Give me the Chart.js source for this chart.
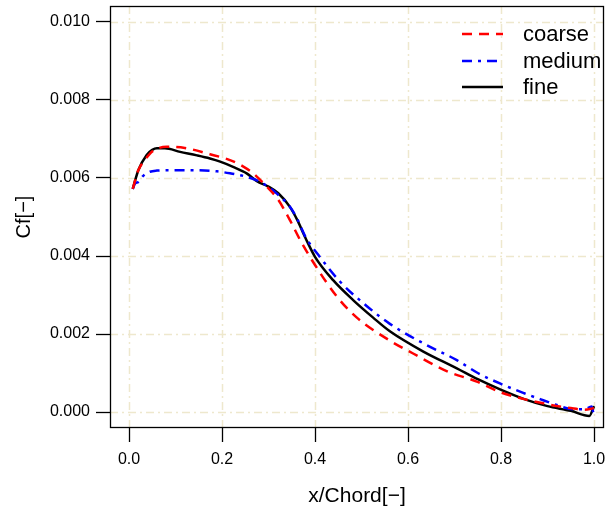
<!DOCTYPE html>
<html>
<head>
<meta charset="utf-8">
<script src="https://cdn.jsdelivr.net/npm/chart.js@4"></script>
<style>
html,body{margin:0;padding:0;background:#fff;}
canvas{display:block;}
</style>
</head>
<body>
<canvas id="c" width="606" height="511"></canvas>
<script>
// ---- data ----
const seriesLabels = ["coarse", "medium", "fine"];

const coarseX = [0.008, 0.02, 0.034, 0.05, 0.081, 0.12, 0.174, 0.217, 0.245, 0.267, 0.296, 0.321, 0.346, 0.368, 0.40, 0.447, 0.49, 0.561, 0.611, 0.683, 0.748, 0.80, 0.85, 0.90, 0.95, 0.98, 1.0];
const coarseY = [0.00572, 0.0062, 0.00646, 0.00668, 0.0068, 0.00677, 0.00661, 0.00646, 0.0063, 0.00612, 0.00578, 0.00544, 0.00492, 0.00441, 0.00377, 0.00296, 0.00242, 0.00183, 0.0015, 0.00105, 0.00078, 0.0005, 0.00033, 0.0002, 0.0001, 0.00006, 0.0001];

const mediumX = [0.008, 0.013, 0.02, 0.03, 0.045, 0.06, 0.088, 0.13, 0.189, 0.217, 0.253, 0.282, 0.318, 0.346, 0.361, 0.38, 0.407, 0.454, 0.511, 0.561, 0.633, 0.705, 0.75, 0.80, 0.85, 0.884, 0.92, 0.955, 0.98, 0.995, 1.0];
const mediumY = [0.00572, 0.00586, 0.0059, 0.00605, 0.00616, 0.00619, 0.0062, 0.0062, 0.00617, 0.00612, 0.00603, 0.0059, 0.0056, 0.00526, 0.00497, 0.00448, 0.00403, 0.00334, 0.00272, 0.00226, 0.00176, 0.00133, 0.001, 0.00072, 0.00048, 0.00033, 0.00018, 0.00007, 0.00007, 0.00014, -0.00012];

const fineX = [0.008, 0.02, 0.038, 0.05, 0.06, 0.077, 0.11, 0.146, 0.174, 0.196, 0.225, 0.253, 0.275, 0.30, 0.321, 0.346, 0.362, 0.38, 0.40, 0.439, 0.482, 0.525, 0.561, 0.633, 0.705, 0.75, 0.798, 0.85, 0.90, 0.95, 0.99, 1.0];
const fineY = [0.00572, 0.0062, 0.00659, 0.00672, 0.00676, 0.00676, 0.00667, 0.00658, 0.0065, 0.00642, 0.00628, 0.00612, 0.00592, 0.00578, 0.00561, 0.00526, 0.00492, 0.00445, 0.00398, 0.00338, 0.00287, 0.00242, 0.00207, 0.00155, 0.00112, 0.00084, 0.00058, 0.00033, 0.00015, 0.00003, -0.0001, 0.00015];

const xTicks = [0.0, 0.2, 0.4, 0.6, 0.8, 1.0];
const yTicks = [0.000, 0.002, 0.004, 0.006, 0.008, 0.010];
const xTitle = "x/Chord[\u2212]";
const yTitle = "Cf[\u2212]";

// ---- build ----
function pts(xs, ys){ return xs.map((x,i)=>({x:x, y:ys[i]})); }

const FONT = "'Liberation Sans', Arial, Helvetica, sans-serif";
const GRID = "rgb(238,232,205)";

const datasets = [
  {label: seriesLabels[0], data: pts(coarseX, coarseY), borderColor: "#ff0000", borderDash: [10, 7], borderWidth: 2.5},
  {label: seriesLabels[1], data: pts(mediumX, mediumY), borderColor: "#0000ff", borderDash: [10, 6, 3, 6], borderWidth: 2.5},
  {label: seriesLabels[2], data: pts(fineX, fineY), borderColor: "#000000", borderDash: [], borderWidth: 2.5}
].map(d => Object.assign(d, {showLine: true, pointRadius: 0, cubicInterpolationMode: "monotone", fill: false}));

const gridPlugin = {
  id: "rgrid",
  beforeDatasetsDraw(chart){
    const {ctx, chartArea: a, scales: {x, y}} = chart;
    ctx.save();
    ctx.strokeStyle = GRID;
    ctx.lineWidth = 1.5;
    ctx.setLineDash([8, 4, 2, 4]);
    xTicks.forEach(v => {
      const px = Math.round(x.getPixelForValue(v)) + 0.5;
      ctx.beginPath(); ctx.moveTo(px, a.top); ctx.lineTo(px, a.bottom); ctx.stroke();
    });
    yTicks.forEach(v => {
      const py = Math.round(y.getPixelForValue(v)) + 0.5;
      ctx.beginPath(); ctx.moveTo(a.left, py); ctx.lineTo(a.right, py); ctx.stroke();
    });
    ctx.restore();
  },
  afterDraw(chart){
    const {ctx, chartArea: a} = chart;
    ctx.save();
    // box
    ctx.strokeStyle = "#000"; ctx.lineWidth = 1.3; ctx.setLineDash([]);
    ctx.strokeRect(a.left + 0.5, a.top + 0.5, a.right - a.left - 1, a.bottom - a.top - 1);
    // legend
    const ys = [34, 61, 87];
    ctx.font = "22px " + FONT;
    ctx.textBaseline = "middle";
    ctx.textAlign = "left";
    chart.data.datasets.forEach((d, i) => {
      ctx.strokeStyle = d.borderColor;
      ctx.lineWidth = d.borderWidth;
      ctx.setLineDash(d.borderDash);
      ctx.beginPath(); ctx.moveTo(462, ys[i]); ctx.lineTo(503, ys[i]); ctx.stroke();
      ctx.fillStyle = "#000";
      ctx.fillText(d.label, 523, ys[i] + 1);
    });
    ctx.restore();
  }
};

function noPad(s){ s.paddingTop = 0; s.paddingBottom = 0; s.paddingLeft = 0; s.paddingRight = 0; }

new Chart(document.getElementById("c"), {
  type: "scatter",
  data: {datasets},
  plugins: [gridPlugin],
  options: {
    responsive: false,
    animation: false,
    devicePixelRatio: 1,
    layout: {padding: {top: 6, right: 2, left: 0, bottom: 0}},
    plugins: {legend: {display: false}, tooltip: {enabled: false}},
    scales: {
      x: {
        type: "linear",
        min: -0.0409, max: 1.0215,
        afterBuildTicks: s => { s.ticks = xTicks.map(v => ({value: v})); },
        afterFit: s => { s.height = 83; noPad(s); },
        ticks: {color: "#000", font: {family: FONT, size: 16}, padding: 8, maxRotation: 0,
                callback: v => Number(v).toFixed(1)},
        grid: {drawOnChartArea: false, drawTicks: true, tickLength: 14, tickColor: "#000", tickWidth: 1.3},
        border: {display: false},
        title: {display: true, text: xTitle, color: "#000", font: {family: FONT, size: 21}, padding: {top: 0, bottom: 2}}
      },
      y: {
        type: "linear",
        min: -0.00041, max: 0.01041,
        afterBuildTicks: s => { s.ticks = yTicks.map(v => ({value: v})); },
        afterFit: s => { s.width = 110; noPad(s); },
        ticks: {color: "#000", font: {family: FONT, size: 16}, padding: 6,
                callback: v => Number(v).toFixed(3)},
        grid: {drawOnChartArea: false, drawTicks: true, tickLength: 14, tickColor: "#000", tickWidth: 1.3},
        border: {display: false},
        title: {display: true, text: yTitle, color: "#000", font: {family: FONT, size: 20}, padding: {top: 12, bottom: 0}}
      }
    }
  }
});
</script>
</body>
</html>
